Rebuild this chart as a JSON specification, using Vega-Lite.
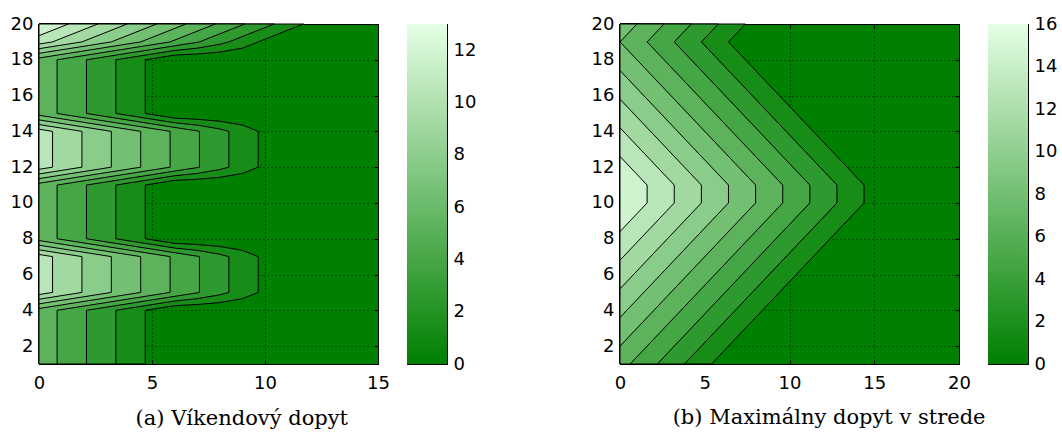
{
  "$schema": "https://vega.github.io/schema/vega-lite/v6.json",
  "padding": {"left": 9, "top": 14, "right": 0, "bottom": 0},
  "background": "white",
  "spacing": 16,
  "config": {
    "view": {"stroke": "black", "strokeWidth": 1},
    "axis": {
      "labelFont": "DejaVu Sans", "labelFontSize": 18, "labelColor": "black",
      "tickColor": "black", "tickSize": -4, "tickWidth": 1,
      "labelPadding": 10, "domain": false, "grid": false, "zindex": 1,
      "labelFlush": false, "labelOverlap": false
    }
  },
  "title": {
    "text": "(b) Maximálny dopyt v strede", "orient": "bottom", "anchor": "start", "align": "center",
    "dx": 819.5, "dy": -5, "baseline": "alphabetic", "offset": 0,
    "font": "DejaVu Serif", "fontSize": 21, "fontWeight": "normal", "color": "black"
  },
  "datasets": {
    "a": [
      {"p":"a01","k":1,"o":0,"x":0,"y":1},{"p":"a01","k":1,"o":1,"x":4.7,"y":1},{"p":"a01","k":1,"o":2,"x":4.7,"y":4},{"p":"a01","k":1,"o":3,"x":6,"y":4.26},{"p":"a01","k":1,"o":4,"x":7,"y":4.325},{"p":"a01","k":1,"o":5,"x":8,"y":4.433},{"p":"a01","k":1,"o":6,"x":9,"y":4.65},{"p":"a01","k":1,"o":7,"x":9.7,"y":5},{"p":"a01","k":1,"o":8,"x":9.7,"y":7},{"p":"a01","k":1,"o":9,"x":9,"y":7.35},{"p":"a01","k":1,"o":10,"x":8,"y":7.567},{"p":"a01","k":1,"o":11,"x":7,"y":7.675},{"p":"a01","k":1,"o":12,"x":6,"y":7.74},{"p":"a01","k":1,"o":13,"x":4.7,"y":8},{"p":"a01","k":1,"o":14,"x":4.7,"y":11},{"p":"a01","k":1,"o":15,"x":6,"y":11.26},{"p":"a01","k":1,"o":16,"x":7,"y":11.325},{"p":"a01","k":1,"o":17,"x":8,"y":11.433},{"p":"a01","k":1,"o":18,"x":9,"y":11.65},{"p":"a01","k":1,"o":19,"x":9.7,"y":12},{"p":"a01","k":1,"o":20,"x":9.7,"y":14},{"p":"a01","k":1,"o":21,"x":9,"y":14.35},{"p":"a01","k":1,"o":22,"x":8,"y":14.567},{"p":"a01","k":1,"o":23,"x":7,"y":14.675},{"p":"a01","k":1,"o":24,"x":6,"y":14.74},{"p":"a01","k":1,"o":25,"x":4.7,"y":15},{"p":"a01","k":1,"o":26,"x":4.7,"y":18},{"p":"a01","k":1,"o":27,"x":6,"y":18.26},{"p":"a01","k":1,"o":28,"x":7,"y":18.325},{"p":"a01","k":1,"o":29,"x":8,"y":18.433},{"p":"a01","k":1,"o":30,"x":9,"y":18.65},{"p":"a01","k":1,"o":31,"x":9.7,"y":19},{"p":"a01","k":1,"o":32,"x":11,"y":19.65},{"p":"a01","k":1,"o":33,"x":11.7,"y":20},{"p":"a01","k":1,"o":34,"x":0,"y":20},{"p":"a01","k":1,"o":35,"x":0,"y":1},
      {"p":"a02","k":2,"o":0,"x":0,"y":1},{"p":"a02","k":2,"o":1,"x":3.4,"y":1},{"p":"a02","k":2,"o":2,"x":3.4,"y":4},{"p":"a02","k":2,"o":3,"x":6,"y":4.52},{"p":"a02","k":2,"o":4,"x":7,"y":4.65},{"p":"a02","k":2,"o":5,"x":8,"y":4.867},{"p":"a02","k":2,"o":6,"x":8.4,"y":5},{"p":"a02","k":2,"o":7,"x":8.4,"y":7},{"p":"a02","k":2,"o":8,"x":8,"y":7.133},{"p":"a02","k":2,"o":9,"x":7,"y":7.35},{"p":"a02","k":2,"o":10,"x":6,"y":7.48},{"p":"a02","k":2,"o":11,"x":3.4,"y":8},{"p":"a02","k":2,"o":12,"x":3.4,"y":11},{"p":"a02","k":2,"o":13,"x":6,"y":11.52},{"p":"a02","k":2,"o":14,"x":7,"y":11.65},{"p":"a02","k":2,"o":15,"x":8,"y":11.867},{"p":"a02","k":2,"o":16,"x":8.4,"y":12},{"p":"a02","k":2,"o":17,"x":8.4,"y":14},{"p":"a02","k":2,"o":18,"x":8,"y":14.133},{"p":"a02","k":2,"o":19,"x":7,"y":14.35},{"p":"a02","k":2,"o":20,"x":6,"y":14.48},{"p":"a02","k":2,"o":21,"x":3.4,"y":15},{"p":"a02","k":2,"o":22,"x":3.4,"y":18},{"p":"a02","k":2,"o":23,"x":6,"y":18.52},{"p":"a02","k":2,"o":24,"x":7,"y":18.65},{"p":"a02","k":2,"o":25,"x":8,"y":18.867},{"p":"a02","k":2,"o":26,"x":8.4,"y":19},{"p":"a02","k":2,"o":27,"x":10.4,"y":20},{"p":"a02","k":2,"o":28,"x":0,"y":20},{"p":"a02","k":2,"o":29,"x":0,"y":1},
      {"p":"a03","k":3,"o":0,"x":0,"y":1},{"p":"a03","k":3,"o":1,"x":2.1,"y":1},{"p":"a03","k":3,"o":2,"x":2.1,"y":4},{"p":"a03","k":3,"o":3,"x":6,"y":4.78},{"p":"a03","k":3,"o":4,"x":7,"y":4.975},{"p":"a03","k":3,"o":5,"x":7.1,"y":5},{"p":"a03","k":3,"o":6,"x":7.1,"y":7},{"p":"a03","k":3,"o":7,"x":7,"y":7.025},{"p":"a03","k":3,"o":8,"x":6,"y":7.22},{"p":"a03","k":3,"o":9,"x":2.1,"y":8},{"p":"a03","k":3,"o":10,"x":2.1,"y":11},{"p":"a03","k":3,"o":11,"x":6,"y":11.78},{"p":"a03","k":3,"o":12,"x":7,"y":11.975},{"p":"a03","k":3,"o":13,"x":7.1,"y":12},{"p":"a03","k":3,"o":14,"x":7.1,"y":14},{"p":"a03","k":3,"o":15,"x":7,"y":14.025},{"p":"a03","k":3,"o":16,"x":6,"y":14.22},{"p":"a03","k":3,"o":17,"x":2.1,"y":15},{"p":"a03","k":3,"o":18,"x":2.1,"y":18},{"p":"a03","k":3,"o":19,"x":6,"y":18.78},{"p":"a03","k":3,"o":20,"x":7,"y":18.975},{"p":"a03","k":3,"o":21,"x":7.1,"y":19},{"p":"a03","k":3,"o":22,"x":9.1,"y":20},{"p":"a03","k":3,"o":23,"x":0,"y":20},{"p":"a03","k":3,"o":24,"x":0,"y":1},
      {"p":"a04","k":4,"o":0,"x":0,"y":1},{"p":"a04","k":4,"o":1,"x":0.8,"y":1},{"p":"a04","k":4,"o":2,"x":0.8,"y":4},{"p":"a04","k":4,"o":3,"x":5.8,"y":5},{"p":"a04","k":4,"o":4,"x":5.8,"y":7},{"p":"a04","k":4,"o":5,"x":0.8,"y":8},{"p":"a04","k":4,"o":6,"x":0.8,"y":11},{"p":"a04","k":4,"o":7,"x":5.8,"y":12},{"p":"a04","k":4,"o":8,"x":5.8,"y":14},{"p":"a04","k":4,"o":9,"x":0.8,"y":15},{"p":"a04","k":4,"o":10,"x":0.8,"y":18},{"p":"a04","k":4,"o":11,"x":5.8,"y":19},{"p":"a04","k":4,"o":12,"x":7.8,"y":20},{"p":"a04","k":4,"o":13,"x":0,"y":20},{"p":"a04","k":4,"o":14,"x":0,"y":1},
      {"p":"a05a","k":5,"o":0,"x":0,"y":4.1},{"p":"a05a","k":5,"o":1,"x":4.5,"y":5},{"p":"a05a","k":5,"o":2,"x":4.5,"y":7},{"p":"a05a","k":5,"o":3,"x":0,"y":7.9},{"p":"a05a","k":5,"o":4,"x":0,"y":4.1},
      {"p":"a05b","k":5,"o":0,"x":0,"y":11.1},{"p":"a05b","k":5,"o":1,"x":4.5,"y":12},{"p":"a05b","k":5,"o":2,"x":4.5,"y":14},{"p":"a05b","k":5,"o":3,"x":0,"y":14.9},{"p":"a05b","k":5,"o":4,"x":0,"y":11.1},
      {"p":"a05c","k":5,"o":0,"x":0,"y":18.1},{"p":"a05c","k":5,"o":1,"x":4.5,"y":19},{"p":"a05c","k":5,"o":2,"x":6.5,"y":20},{"p":"a05c","k":5,"o":3,"x":0,"y":20},{"p":"a05c","k":5,"o":4,"x":0,"y":18.1},
      {"p":"a06a","k":6,"o":0,"x":0,"y":4.36},{"p":"a06a","k":6,"o":1,"x":3.2,"y":5},{"p":"a06a","k":6,"o":2,"x":3.2,"y":7},{"p":"a06a","k":6,"o":3,"x":0,"y":7.64},{"p":"a06a","k":6,"o":4,"x":0,"y":4.36},
      {"p":"a06b","k":6,"o":0,"x":0,"y":11.36},{"p":"a06b","k":6,"o":1,"x":3.2,"y":12},{"p":"a06b","k":6,"o":2,"x":3.2,"y":14},{"p":"a06b","k":6,"o":3,"x":0,"y":14.64},{"p":"a06b","k":6,"o":4,"x":0,"y":11.36},
      {"p":"a06c","k":6,"o":0,"x":0,"y":18.36},{"p":"a06c","k":6,"o":1,"x":3.2,"y":19},{"p":"a06c","k":6,"o":2,"x":5.2,"y":20},{"p":"a06c","k":6,"o":3,"x":0,"y":20},{"p":"a06c","k":6,"o":4,"x":0,"y":18.36},
      {"p":"a07a","k":7,"o":0,"x":0,"y":4.62},{"p":"a07a","k":7,"o":1,"x":1.9,"y":5},{"p":"a07a","k":7,"o":2,"x":1.9,"y":7},{"p":"a07a","k":7,"o":3,"x":0,"y":7.38},{"p":"a07a","k":7,"o":4,"x":0,"y":4.62},
      {"p":"a07b","k":7,"o":0,"x":0,"y":11.62},{"p":"a07b","k":7,"o":1,"x":1.9,"y":12},{"p":"a07b","k":7,"o":2,"x":1.9,"y":14},{"p":"a07b","k":7,"o":3,"x":0,"y":14.38},{"p":"a07b","k":7,"o":4,"x":0,"y":11.62},
      {"p":"a07c","k":7,"o":0,"x":0,"y":18.62},{"p":"a07c","k":7,"o":1,"x":1.9,"y":19},{"p":"a07c","k":7,"o":2,"x":3.9,"y":20},{"p":"a07c","k":7,"o":3,"x":0,"y":20},{"p":"a07c","k":7,"o":4,"x":0,"y":18.62},
      {"p":"a08a","k":8,"o":0,"x":0,"y":4.88},{"p":"a08a","k":8,"o":1,"x":0.6,"y":5},{"p":"a08a","k":8,"o":2,"x":0.6,"y":7},{"p":"a08a","k":8,"o":3,"x":0,"y":7.12},{"p":"a08a","k":8,"o":4,"x":0,"y":4.88},
      {"p":"a08b","k":8,"o":0,"x":0,"y":11.88},{"p":"a08b","k":8,"o":1,"x":0.6,"y":12},{"p":"a08b","k":8,"o":2,"x":0.6,"y":14},{"p":"a08b","k":8,"o":3,"x":0,"y":14.12},{"p":"a08b","k":8,"o":4,"x":0,"y":11.88},
      {"p":"a08c","k":8,"o":0,"x":0,"y":18.88},{"p":"a08c","k":8,"o":1,"x":0.6,"y":19},{"p":"a08c","k":8,"o":2,"x":2.6,"y":20},{"p":"a08c","k":8,"o":3,"x":0,"y":20},{"p":"a08c","k":8,"o":4,"x":0,"y":18.88},
      {"p":"a09","k":9,"o":0,"x":0,"y":19.35},{"p":"a09","k":9,"o":1,"x":1.3,"y":20},{"p":"a09","k":9,"o":2,"x":0,"y":20},{"p":"a09","k":9,"o":3,"x":0,"y":19.35}
    ],
    "b": [
      {"p":"b01","k":1,"o":0,"x":0,"y":1},{"p":"b01","k":1,"o":1,"x":5.4,"y":1},{"p":"b01","k":1,"o":2,"x":14.4,"y":10},{"p":"b01","k":1,"o":3,"x":14.4,"y":11},{"p":"b01","k":1,"o":4,"x":6.4,"y":19},{"p":"b01","k":1,"o":5,"x":7.4,"y":20},{"p":"b01","k":1,"o":6,"x":0,"y":20},{"p":"b01","k":1,"o":7,"x":0,"y":1},
      {"p":"b02","k":2,"o":0,"x":0,"y":1},{"p":"b02","k":2,"o":1,"x":3.8,"y":1},{"p":"b02","k":2,"o":2,"x":12.8,"y":10},{"p":"b02","k":2,"o":3,"x":12.8,"y":11},{"p":"b02","k":2,"o":4,"x":4.8,"y":19},{"p":"b02","k":2,"o":5,"x":5.8,"y":20},{"p":"b02","k":2,"o":6,"x":0,"y":20},{"p":"b02","k":2,"o":7,"x":0,"y":1},
      {"p":"b03","k":3,"o":0,"x":0,"y":1},{"p":"b03","k":3,"o":1,"x":2.2,"y":1},{"p":"b03","k":3,"o":2,"x":11.2,"y":10},{"p":"b03","k":3,"o":3,"x":11.2,"y":11},{"p":"b03","k":3,"o":4,"x":3.2,"y":19},{"p":"b03","k":3,"o":5,"x":4.2,"y":20},{"p":"b03","k":3,"o":6,"x":0,"y":20},{"p":"b03","k":3,"o":7,"x":0,"y":1},
      {"p":"b04","k":4,"o":0,"x":0,"y":1},{"p":"b04","k":4,"o":1,"x":0.6,"y":1},{"p":"b04","k":4,"o":2,"x":9.6,"y":10},{"p":"b04","k":4,"o":3,"x":9.6,"y":11},{"p":"b04","k":4,"o":4,"x":1.6,"y":19},{"p":"b04","k":4,"o":5,"x":2.6,"y":20},{"p":"b04","k":4,"o":6,"x":0,"y":20},{"p":"b04","k":4,"o":7,"x":0,"y":1},
      {"p":"b05","k":5,"o":0,"x":0,"y":2},{"p":"b05","k":5,"o":1,"x":8,"y":10},{"p":"b05","k":5,"o":2,"x":8,"y":11},{"p":"b05","k":5,"o":3,"x":0,"y":19},{"p":"b05","k":5,"o":4,"x":1,"y":20},{"p":"b05","k":5,"o":5,"x":0,"y":20},{"p":"b05","k":5,"o":6,"x":0,"y":2},
      {"p":"b06","k":6,"o":0,"x":0,"y":3.6},{"p":"b06","k":6,"o":1,"x":6.4,"y":10},{"p":"b06","k":6,"o":2,"x":6.4,"y":11},{"p":"b06","k":6,"o":3,"x":0,"y":17.4},{"p":"b06","k":6,"o":4,"x":0,"y":3.6},
      {"p":"b07","k":7,"o":0,"x":0,"y":5.2},{"p":"b07","k":7,"o":1,"x":4.8,"y":10},{"p":"b07","k":7,"o":2,"x":4.8,"y":11},{"p":"b07","k":7,"o":3,"x":0,"y":15.8},{"p":"b07","k":7,"o":4,"x":0,"y":5.2},
      {"p":"b08","k":8,"o":0,"x":0,"y":6.8},{"p":"b08","k":8,"o":1,"x":3.2,"y":10},{"p":"b08","k":8,"o":2,"x":3.2,"y":11},{"p":"b08","k":8,"o":3,"x":0,"y":14.2},{"p":"b08","k":8,"o":4,"x":0,"y":6.8},
      {"p":"b09","k":9,"o":0,"x":0,"y":8.4},{"p":"b09","k":9,"o":1,"x":1.6,"y":10},{"p":"b09","k":9,"o":2,"x":1.6,"y":11},{"p":"b09","k":9,"o":3,"x":0,"y":12.6},{"p":"b09","k":9,"o":4,"x":0,"y":8.4}
    ],
    "cbA": [{"lo": 0, "hi": 13}],
    "cbB": [{"lo": 0, "hi": 16}]
  },
  "hconcat": [
    {
      "width": 339, "height": 340,
      "view": {"fill": "#008000"},
      "data": {"name": "a"},
      "layer": [
        {
          "mark": {"type": "line", "filled": true, "stroke": "black", "strokeWidth": 1, "strokeJoin": "miter"},
          "encoding": {
            "x": {"field": "x", "type": "quantitative", "scale": {"domain": [0, 15], "nice": false, "zero": false},
              "axis": {"orient": "bottom", "values": [0, 5, 10, 15], "labelPadding": 14, "grid": true, "gridDash": [1, 3], "gridColor": "black", "gridOpacity": 0.8,
                "title": "(a) Víkendový dopyt", "titleX": 202.3, "titleY": 60.7, "titleAlign": "center", "titleBaseline": "alphabetic",
                "titleFont": "DejaVu Serif", "titleFontSize": 21, "titleFontWeight": "normal", "titleColor": "black"}},
            "y": {"field": "y", "type": "quantitative", "scale": {"domain": [1, 20], "nice": false, "zero": false},
              "axis": {"orient": "left", "values": [2, 4, 6, 8, 10, 12, 14, 16, 18, 20], "grid": true, "gridDash": [1, 3], "gridColor": "black", "gridOpacity": 0.8, "title": null}},
            "color": {"field": "k", "type": "quantitative", "scale": {"domain": [0, 10], "range": ["#008000", "#E6FFE6"], "interpolate": "rgb"}, "legend": null},
            "detail": {"field": "p", "type": "nominal"},
            "order": {"field": "o", "type": "quantitative"}
          }
        },
        {
          "mark": {"type": "point", "opacity": 0},
          "encoding": {
            "x": {"field": "x", "type": "quantitative", "axis": {"orient": "top", "values": [0, 5, 10, 15], "labels": false, "title": null}},
            "y": {"field": "y", "type": "quantitative", "axis": {"orient": "right", "values": [2, 4, 6, 8, 10, 12, 14, 16, 18, 20], "labels": false, "title": null}}
          }
        }
      ],
      "resolve": {"axis": {"x": "independent", "y": "independent"}}
    },
    {
      "width": 40, "height": 340,
      "data": {"name": "cbA"},
      "layer": [
        {
          "mark": {"type": "rect", "fill": {"gradient": "linear", "x1": 0, "y1": 1, "x2": 0, "y2": 0, "stops": [{"offset": 0, "color": "#008000"}, {"offset": 1, "color": "#E6FFE6"}]}},
          "encoding": {
            "x": {"datum": 0, "type": "quantitative", "scale": {"domain": [0, 1], "nice": false}, "axis": null},
            "x2": {"datum": 1},
            "y": {"field": "lo", "type": "quantitative", "scale": {"domain": [0, 13], "nice": false},
              "axis": {"orient": "right", "values": [0, 2, 4, 6, 8, 10, 12, 13], "labelExpr": "datum.value == 13 ? ' ' : datum.label", "labelPadding": 10,
                "title": " ", "titleX": 126.1, "titleY": 170, "titleAngle": 0, "titleAlign": "right", "titleBaseline": "middle", "titleFontSize": 10}},
            "y2": {"field": "hi"}
          }
        },
        {
          "mark": {"type": "rect", "opacity": 0},
          "encoding": {
            "x": {"datum": 0, "type": "quantitative", "axis": null},
            "x2": {"datum": 1},
            "y": {"field": "lo", "type": "quantitative", "axis": {"orient": "left", "values": [0, 2, 4, 6, 8, 10, 12], "labels": false, "title": null}},
            "y2": {"field": "hi"}
          }
        }
      ],
      "resolve": {"axis": {"y": "independent"}}
    },
    {
      "width": 339, "height": 340,
      "view": {"fill": "#008000"},
      "data": {"name": "b"},
      "layer": [
        {
          "mark": {"type": "line", "filled": true, "stroke": "black", "strokeWidth": 1, "strokeJoin": "miter"},
          "encoding": {
            "x": {"field": "x", "type": "quantitative", "scale": {"domain": [0, 20], "nice": false, "zero": false},
              "axis": {"orient": "bottom", "values": [0, 5, 10, 15, 20], "labelPadding": 14, "grid": true, "gridDash": [1, 3], "gridColor": "black", "gridOpacity": 0.8, "title": null}},
            "y": {"field": "y", "type": "quantitative", "scale": {"domain": [1, 20], "nice": false, "zero": false},
              "axis": {"orient": "left", "values": [2, 4, 6, 8, 10, 12, 14, 16, 18, 20], "grid": true, "gridDash": [1, 3], "gridColor": "black", "gridOpacity": 0.8, "title": null}},
            "color": {"field": "k", "type": "quantitative", "scale": {"domain": [0, 10], "range": ["#008000", "#E6FFE6"], "interpolate": "rgb"}, "legend": null},
            "detail": {"field": "p", "type": "nominal"},
            "order": {"field": "o", "type": "quantitative"}
          }
        },
        {
          "mark": {"type": "point", "opacity": 0},
          "encoding": {
            "x": {"field": "x", "type": "quantitative", "axis": {"orient": "top", "values": [0, 5, 10, 15, 20], "labels": false, "title": null}},
            "y": {"field": "y", "type": "quantitative", "axis": {"orient": "right", "values": [2, 4, 6, 8, 10, 12, 14, 16, 18, 20], "labels": false, "title": null}}
          }
        }
      ],
      "resolve": {"axis": {"x": "independent", "y": "independent"}}
    },
    {
      "width": 40, "height": 340,
      "data": {"name": "cbB"},
      "layer": [
        {
          "mark": {"type": "rect", "fill": {"gradient": "linear", "x1": 0, "y1": 1, "x2": 0, "y2": 0, "stops": [{"offset": 0, "color": "#008000"}, {"offset": 1, "color": "#E6FFE6"}]}},
          "encoding": {
            "x": {"datum": 0, "type": "quantitative", "scale": {"domain": [0, 1], "nice": false}, "axis": null},
            "x2": {"datum": 1},
            "y": {"field": "lo", "type": "quantitative", "scale": {"domain": [0, 16], "nice": false},
              "axis": {"orient": "right", "values": [0, 2, 4, 6, 8, 10, 12, 14, 16], "labelPadding": 10, "title": null}},
            "y2": {"field": "hi"}
          }
        },
        {
          "mark": {"type": "rect", "opacity": 0},
          "encoding": {
            "x": {"datum": 0, "type": "quantitative", "axis": null},
            "x2": {"datum": 1},
            "y": {"field": "lo", "type": "quantitative", "axis": {"orient": "left", "values": [0, 2, 4, 6, 8, 10, 12, 14, 16], "labels": false, "title": null}},
            "y2": {"field": "hi"}
          }
        }
      ],
      "resolve": {"axis": {"y": "independent"}}
    }
  ],
  "resolve": {"scale": {"color": "independent"}}
}
